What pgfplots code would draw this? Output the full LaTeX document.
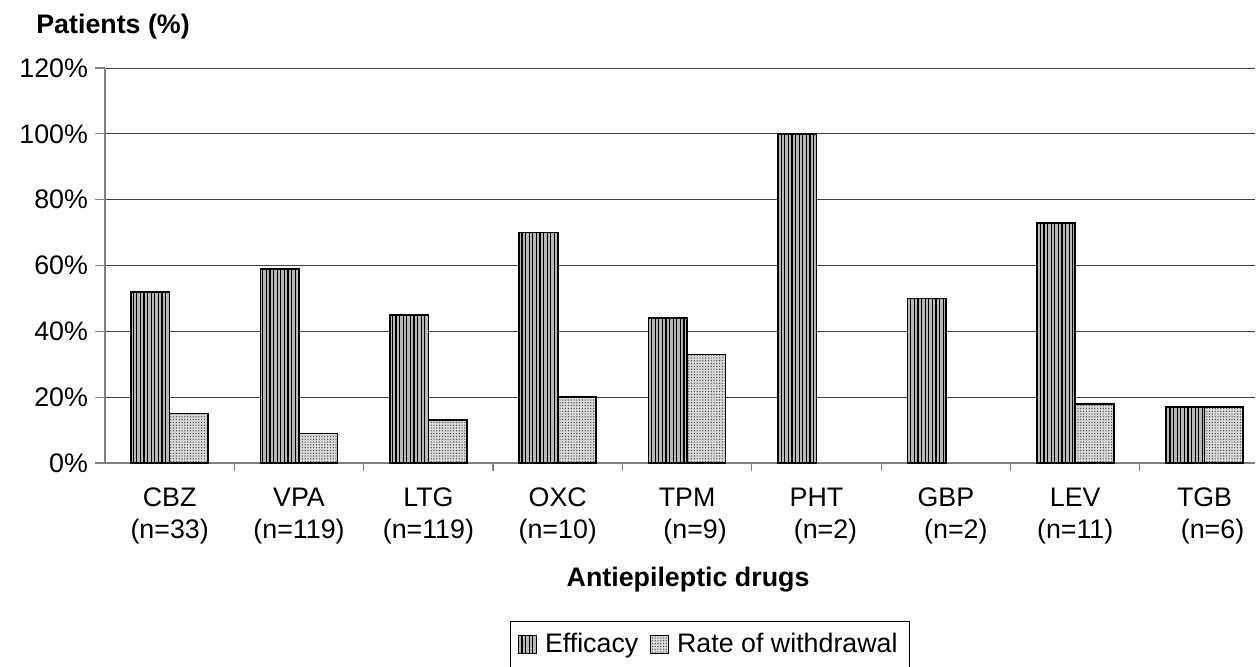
\documentclass[border=0pt]{standalone}
\usepackage{fontspec}
\setmainfont{Liberation Sans}
\usepackage{pgfplots}
\pgfplotsset{compat=1.18}
\usetikzlibrary{patterns.meta}
\begin{document}
\begin{tikzpicture}[font=\fontsize{13.4}{16}\selectfont]
\path[use as bounding box] (-52.5pt,-101.5pt) rectangle (575.5pt,231.5pt);
\begin{axis}[
  scale only axis,
  width=575pt, height=197.5pt,
  at={(0,0)}, anchor=south west,
  ybar=0pt, bar width=19.25pt,
  xmin=-0.5, xmax=8.39,
  ymin=0, ymax=120,
  axis x line*=bottom, axis y line*=left,
  axis line style={draw=gray, line width=0.6pt},
  ytick={0,20,40,60,80,100,120},
  yticklabels={0\%,20\%,40\%,60\%,80\%,100\%,120\%},
  ymajorgrids,
  grid style={draw=black!75, line width=0.5pt},
  y tick style={draw=gray, line width=0.6pt},
  tick align=outside,
  major tick length=5pt,
  xtick={0,1,2,3,4,5,6,7,8},
  x tick style={draw=none},
  xticklabels={{CBZ\\(n=33)},{VPA\\(n=119)},{LTG\\(n=119)},{OXC\\(n=10)},{TPM\\\hspace*{8pt}(n=9)},{PHT\\\hspace*{9pt}(n=2)},{GBP\\\hspace*{10pt}(n=2)},{LEV\\(n=11)},{TGB\\\hspace*{8pt}(n=6)}},
  xticklabel style={align=center, font=\fontsize{13.4}{16}\selectfont, yshift=-4pt},
  yticklabel style={font=\fontsize{13.4}{16}\selectfont},
  extra x ticks={0.5,1.5,2.5,3.5,4.5,5.5,6.5,7.5},
  extra x tick labels={},
  extra x tick style={grid=none, x tick style={draw=gray, line width=0.6pt}, major tick length=4pt},
  xlabel={\bfseries Antiepileptic drugs},
  x label style={at={(axis description cs:0.507,-0.296)}, anchor=center},
  ylabel={\bfseries Patients (\%)},
  y label style={rotate=-90, at={(axis description cs:0.007,1.104)}, anchor=center},
  legend columns=2,
  legend style={at={(axis description cs:0.526,-0.4)}, anchor=north, draw=black, line width=0.5pt,
    font=\fontsize{13.4}{16}\selectfont, inner sep=4pt,
    /tikz/every odd column/.append style={column sep=2pt},
    /tikz/every even column/.append style={column sep=4pt}},
  legend image code/.code={\draw[#1, line width=0.4pt] (0pt,-4.5pt) rectangle (9pt,4.5pt);},
]
\addplot[draw=black, line width=0.8pt, fill=gray!55, postaction={pattern={Lines[angle=90,distance=1.8pt,line width=0.6pt]}, pattern color=black}]
  coordinates {(0,52) (1,59) (2,45) (3,70) (4,44) (5,100) (6,50) (7,73) (8,17)};
\addplot[draw=black, line width=0.8pt, fill=gray!30, postaction={pattern={Dots[distance=1.4pt,radius=0.35pt]}, pattern color=black!70}]
  coordinates {(0,15) (1,9) (2,13) (3,20) (4,33) (7,18) (8,17)};
\legend{Efficacy,Rate of withdrawal}
\end{axis}
\end{tikzpicture}
\end{document}
